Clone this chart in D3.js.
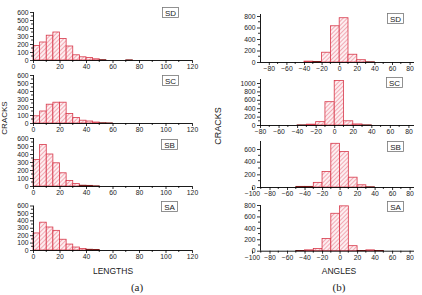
<!DOCTYPE html>
<html><head><meta charset="utf-8">
<script src="https://cdn.jsdelivr.net/npm/d3@7"></script>
<style>
body{margin:0;background:#fff;}
</style></head><body>
<svg id="c" width="422" height="295"></svg>
<script>
// ---------- DATA ----------
const lengthBinWidth = 5;
const lengthTicks = [0,20,40,60,80,100,120];
const lengthYTicks = [0,100,200,300,400,500,600];
// values per 5-unit bin starting at 0
const lenSD = [180,225,310,350,270,175,65,40,30,15,5,0,0,0,3];
const lenSC = [90,150,235,260,260,120,70,35,25,12,4,2];
const lenSB = [330,520,400,290,165,70,30,10,8,3];
const lenSA = [230,375,310,265,145,80,40,20,10,8];

const angleBinWidth = 10;
const angSDStart = -40, angSD = [15,10,170,630,770,135,40,5];
const angSCStart = -40, angSC = [5,20,80,555,1060,100,25,5];
const angSBStart = -50, angSB = [10,10,73,245,690,560,155,35,5];
const angSAStart = -50, angSA = [5,15,40,215,655,785,88,5,15,3];
const angTicksA = [-80,-60,-40,-20,0,20,40,60,80];
const angTicksB = [-100,-80,-60,-40,-20,0,20,40,60,80];
const labels = ["SD","SC","SB","SA"];

// ---------- DRAW ----------
const SANS = "'Liberation Sans', Arial, Helvetica, sans-serif";
const SERIF = "'Liberation Serif', 'Times New Roman', 'DejaVu Serif', serif";
const svg = d3.select("#c");
const defs = svg.append("defs");
const pat = defs.append("pattern").attr("id","hatch").attr("patternUnits","userSpaceOnUse")
  .attr("width",3).attr("height",3).attr("patternTransform","rotate(45)");
pat.append("rect").attr("width",3).attr("height",3).attr("fill","#fdeef0");
pat.append("line").attr("x1",0).attr("y1",0).attr("x2",0).attr("y2",3)
  .attr("stroke","#e8677b").attr("stroke-width",1);

function panel(o){
  const x = d3.scaleLinear().domain(o.xd).range(o.xr);
  const y = d3.scaleLinear().domain([0,o.ymax]).range([o.yb,o.yt]);
  const g = svg.append("g");
  const bins = o.vals.map((v,i)=>({x0:o.start+i*o.bw, x1:o.start+(i+1)*o.bw, v}));
  g.selectAll("rect.bar").data(bins.filter(d=>d.v>0)).join("rect")
    .attr("x",d=>x(d.x0)).attr("width",d=>x(d.x1)-x(d.x0))
    .attr("y",d=>y(d.v)).attr("height",d=>y(0)-y(d.v))
    .attr("fill","url(#hatch)")
    .attr("stroke",d=>d.v<12?"#7a1a1a":"#d8384a").attr("stroke-width",0.8);
  const xa = d3.axisBottom(x).tickValues(o.xt).tickSize(3).tickPadding(1.5).tickFormat(d3.format("d"));
  const gx = g.append("g").attr("transform",`translate(0,${o.yb})`).call(xa);
  gx.select(".domain").attr("d",`M${o.axisX0},0.5H${o.xr[1]}`);
  const mx = [];
  for(let i=0;i<o.xt.length-1;i++) mx.push((o.xt[i]+o.xt[i+1])/2);
  gx.selectAll("line.minor").data(mx.filter(v=>x(v)>=o.axisX0-0.5&&x(v)<=o.xr[1])).join("line")
    .attr("class","minor").attr("x1",d=>x(d)).attr("x2",d=>x(d)).attr("y1",0).attr("y2",2)
    .attr("stroke","#000").attr("stroke-width",0.8);
  const ya = d3.axisLeft(y).tickValues(o.yticks).tickSize(3).tickPadding(1.5).tickFormat(d3.format("d"));
  const gy = g.append("g").attr("transform",`translate(${o.axisX0},0)`).call(ya);
  gy.select(".domain").attr("d",`M0.5,${o.yb}V${o.yTopAxis}`);
  const my = [];
  for(let i=0;i<o.yticks.length-1;i++) my.push((o.yticks[i]+o.yticks[i+1])/2);
  gy.selectAll("line.minor").data(my).join("line")
    .attr("class","minor").attr("x1",0).attr("x2",-2).attr("y1",d=>y(d)).attr("y2",d=>y(d))
    .attr("stroke","#000").attr("stroke-width",0.8);
  [gx,gy].forEach(a=>{
    a.attr("font-family",null).attr("font-size",null);
    a.selectAll(".tick line").attr("stroke","#000").attr("stroke-width",0.8);
    a.select(".domain").attr("stroke","#000").attr("stroke-width",0.9);
    a.selectAll("text").style("font-size","6.8px").style("fill","#222").style("font-family",SANS);
  });
  g.append("rect").attr("x",o.box[0]+0.5).attr("y",o.box[1]+0.5).attr("width",16).attr("height",10)
    .attr("fill","#fff").attr("stroke","#777").attr("stroke-width",0.8);
  g.append("text").attr("x",o.box[0]+8.5).attr("y",o.box[1]+8.8).attr("text-anchor","middle")
    .style("font-size","8px").style("font-family",SANS).style("fill","#222").text(o.label);
}

const leftY = [[60,12],[123,75],[186,138],[250,205.5]];
const leftBox = [[162,7],[162,75],[161,139],[161,201]];
[lenSD,lenSC,lenSB,lenSA].forEach((vals,i)=>{
  panel({xd:[0,120],xr:[33,192],axisX0:33,xt:lengthTicks,ymax:600,yb:leftY[i][0],yt:leftY[i][1],
    yTopAxis:leftY[i][1],yticks:lengthYTicks,vals,start:0,bw:lengthBinWidth,label:labels[i],box:leftBox[i]});
});

panel({xd:[-90,85],xr:[260,414],axisX0:260,xt:angTicksA,ymax:800,yb:62,yt:16,yTopAxis:14,
  yticks:[0,200,400,600,800],vals:angSD,start:angSDStart,bw:angleBinWidth,label:"SD",box:[387,13]});
panel({xd:[-80,86],xr:[260,414],axisX0:260,xt:angTicksA,ymax:1000,yb:125,yt:83,yTopAxis:79,
  yticks:[0,200,400,600,800,1000],vals:angSC,start:angSCStart,bw:angleBinWidth,label:"SC",box:[386,77]});
panel({xd:[-100,85],xr:[252,414],axisX0:260,xt:angTicksB,ymax:600,yb:187,yt:149,yTopAxis:141,
  yticks:[0,200,400,600],vals:angSB,start:angSBStart,bw:angleBinWidth,label:"SB",box:[387,141]});
panel({xd:[-100,85],xr:[252,414],axisX0:260,xt:angTicksB,ymax:800,yb:250.7,yt:205,yTopAxis:205,
  yticks:[0,200,400,600,800],vals:angSA,start:angSAStart,bw:angleBinWidth,label:"SA",box:[387,201]});

function title(x,y,rot,size,fam,txt){
  svg.append("text").attr("transform",`translate(${x},${y})${rot?" rotate(-90)":""}`)
    .attr("text-anchor","middle").style("font-size",size+"px").style("font-family",fam)
    .style("fill","#222").text(txt);
}
title(7,118,true,8,SANS,"CRACKS");
title(221,126,true,9,SANS,"CRACKS");
title(113,274,false,8.5,SANS,"LENGTHS");
title(339,274,false,8.5,SANS,"ANGLES");
title(137,291,false,11,SERIF,"(a)");
title(339,291,false,11,SERIF,"(b)");
</script></body></html>
